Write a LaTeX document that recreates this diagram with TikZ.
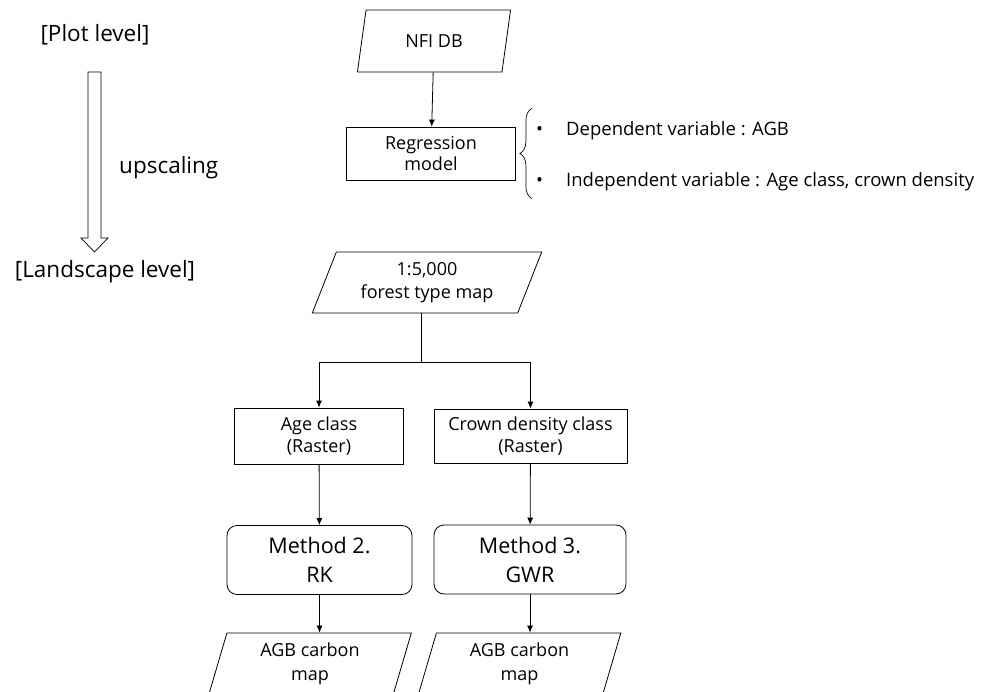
\documentclass[tikz,border=0pt]{standalone}
\usepackage{fontspec}
\setmainfont{Open Sans}
\usetikzlibrary{arrows.meta,positioning,shapes.geometric,decorations.pathreplacing,calc}
\tikzset{
  agb box/.style={
    draw=black,
    line width=0.8pt,
    minimum width=169pt,
    minimum height=54pt,
    align=center,
    inner sep=2pt,
    font=\fontsize{18}{21.5}\selectfont
  },
  agb data/.style={
    trapezium,
    trapezium stretches=true,
    draw=black,
    line width=0.8pt,
    align=center,
    inner sep=2pt,
    font=\fontsize{18}{23.5}\selectfont
  },
  agb method/.style={agb box,rounded corners=10pt,minimum height=69pt,font=\fontsize{21.5}{29}\selectfont},
  agb arrow/.style={-{Latex[length=7pt,width=6pt]},line width=0.8pt},
  agb level/.style={font=\fontsize{22.5}{26}\selectfont,inner sep=0pt},
  agb item/.style={anchor=west,font=\fontsize{18.5}{22}\selectfont,inner sep=0pt}
}

\begin{document}
\begin{tikzpicture}[x=1pt,y=-1pt]
  \clip (0,0) rectangle (981,692);

  \node[agb level] (plot) at (95,35) {[Plot level]};
  \node[agb level,anchor=west] (upscale) at (119,168) {upscaling};
  \node[agb level] (landscape) at (105,272) {[Landscape level]};

  % hollow upscaling arrow
  \draw[line width=0.7pt] (88,72) -- (101,72) -- (101,238) -- (108,238)
    -- (94.5,252) -- (81,238) -- (88,238) -- cycle;

  \node[agb data,trapezium left angle=77,trapezium right angle=103,
    minimum width=154pt,minimum height=62pt] (nfi) at (434,41) {NFI DB};
  \node[agb box,minimum height=53pt] (regression) at (431,153.5) {Regression\\model};
  \draw[agb arrow] (nfi) -- (regression);

  \draw[line width=0.7pt,decorate,decoration={brace,amplitude=12pt}]
    ($(regression.east)+(16,45)$) -- ($(regression.east)+(16,-45)$);
  \node[agb item] (dependent) at (536,131)
    {\makebox[30pt][l]{•}Dependent variable : AGB};
  \node[agb item] (independent) at (536,182)
    {\makebox[30pt][l]{•}Independent variable : Age class, crown density};

  \node[agb data,trapezium left angle=68,trapezium right angle=112,
    minimum width=230pt,minimum height=61pt] (forest) at (427,282.5)
    {1:5,000\\forest type map};

  \node[agb box,minimum height=56pt] (age) at (319,436) {Age class\\(Raster)};
  \node[agb box,minimum width=193pt] (crown) at (530.5,436) {Crown density class\\(Raster)};

  \coordinate (split) at ($(forest.south)+(-6,49)$);
  \draw[line width=0.8pt] (forest.south -| split) -- (split);
  \draw[agb arrow] (split) -| (age);
  \draw[agb arrow] (split) -| (crown);

  \node[agb method,minimum width=185pt] (rk) at (319.5,560) {Method 2.\\RK};
  \node[agb method,minimum width=192pt] (gwr) at (530,559.5) {Method 3.\\GWR};
  \draw[agb arrow] (age) -- (rk);
  \draw[agb arrow] (crown) -- (gwr);

  \node[agb data,trapezium left angle=76,trapezium right angle=104,
    minimum width=203pt,minimum height=62pt] (rk map) at (310,664) {AGB carbon\\map};
  \node[agb data,trapezium left angle=76,trapezium right angle=104,
    minimum width=203pt,minimum height=62pt] (gwr map) at (519.5,664) {AGB carbon\\map};
  \draw[agb arrow] (rk.south) -- (rk.south |- rk map.north);
  \draw[agb arrow] (gwr.south) -- (gwr.south |- gwr map.north);
\end{tikzpicture}
\end{document}
